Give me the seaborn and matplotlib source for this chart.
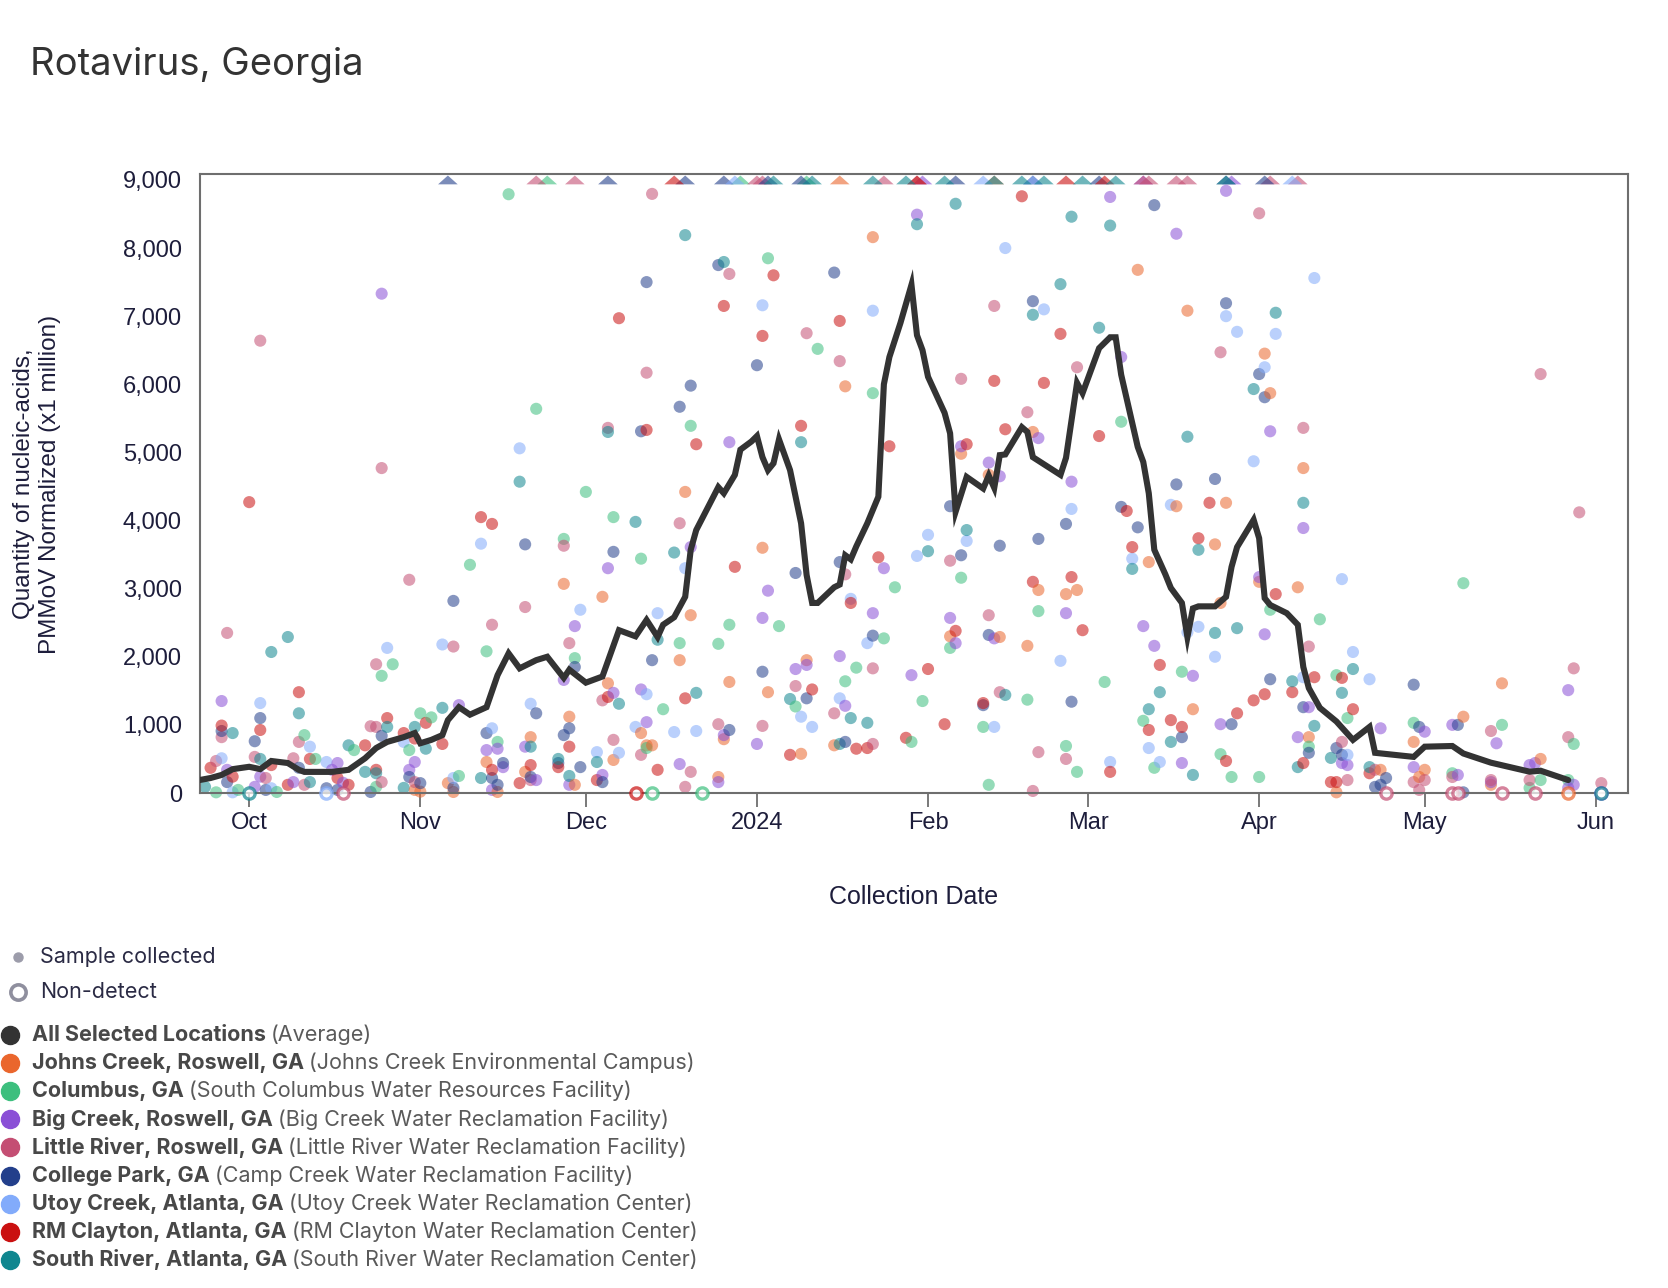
import pandas as pd
import numpy as np
import matplotlib
matplotlib.use('Agg')
import matplotlib.pyplot as plt
import matplotlib.dates as mdates
from matplotlib.ticker import FuncFormatter
from matplotlib.lines import Line2D
import seaborn as sns

sns.set_theme(style='white')
plt.rcParams['font.family'] = ['Liberation Sans', 'DejaVu Sans']

# ---- data (values are x1 million, PMMoV normalized) ----
cap = 9000  # values above this are drawn as triangles on the top edge

avg_dates = ['Sep 22','Sep 24','Sep 26','Sep 28','Oct 1','Oct 3','Oct 5','Oct 8','Oct 10','Oct 11',
             'Oct 16','Oct 19','Oct 22','Oct 24','Oct 26','Oct 29','Oct 31','Nov 1','Nov 3','Nov 5',
             'Nov 6','Nov 8','Nov 10','Nov 13','Nov 15','Nov 17','Nov 19','Nov 22','Nov 24','Nov 27',
             'Nov 28','Dec 1','Dec 4','Dec 7','Dec 10','Dec 12','Dec 14','Dec 15','Dec 17','Dec 19',
             'Dec 20','Dec 21','Dec 25','Dec 26','Dec 28','Dec 29','Dec 31','Jan 1','Jan 2','Jan 3',
             'Jan 4','Jan 5','Jan 7','Jan 9','Jan 10','Jan 11','Jan 12','Jan 15','Jan 16','Jan 17',
             'Jan 18','Jan 19','Jan 21','Jan 23','Jan 24','Jan 25','Jan 27','Jan 29','Jan 30','Jan 31',
             'Feb 1','Feb 4','Feb 5','Feb 6','Feb 8','Feb 11','Feb 12','Feb 13','Feb 14','Feb 15',
             'Feb 18','Feb 19','Feb 20','Feb 25','Feb 26','Feb 28','Feb 29','Mar 3','Mar 5','Mar 6',
             'Mar 7','Mar 10','Mar 11','Mar 12','Mar 13','Mar 15','Mar 16','Mar 18','Mar 19','Mar 20',
             'Mar 21','Mar 24','Mar 26','Mar 27','Mar 28','Mar 31','Apr 1','Apr 2','Apr 3','Apr 6',
             'Apr 8','Apr 9','Apr 10','Apr 12','Apr 15','Apr 18','Apr 21','Apr 22','Apr 29','May 1',
             'May 6','May 8','May 13','May 20','May 22','May 27']
avg_vals = [190,220,265,350,385,350,470,440,340,310,
            310,340,510,660,750,820,880,730,780,850,
            1070,1260,1150,1260,1730,2050,1830,1950,2000,1690,
            1810,1620,1710,2390,2300,2540,2290,2470,2580,2880,
            3570,3860,4490,4400,4670,5040,5160,5240,4930,4740,
            4840,5190,4740,3960,3200,2790,2790,3020,3060,3490,
            3430,3620,3960,4350,6000,6400,6900,7460,6720,6500,
            6110,5580,5280,4130,4640,4470,4660,4480,4960,4970,
            5370,5300,4930,4670,4920,6020,5870,6530,6690,6690,
            6140,5080,4860,4400,3570,3210,3010,2790,2290,2710,
            2740,2740,2880,3320,3610,4010,3740,2860,2760,2640,
            2470,1850,1540,1250,1050,780,970,590,530,680,
            690,580,445,313,327,190]

# Johns Creek, Roswell
jc_dates = ['Oct 31','Nov 1','Nov 6','Nov 7','Nov 13','Nov 15','Nov 20','Nov 21','Nov 27','Nov 28',
            'Nov 29','Dec 4','Dec 5','Dec 6','Dec 11','Dec 12','Dec 13','Dec 18','Dec 19','Dec 20',
            'Dec 25','Dec 26','Dec 27','Jan 2','Jan 3','Jan 9','Jan 10','Jan 15','Jan 17','Jan 22',
            'Feb 5','Feb 7','Feb 12','Feb 14','Feb 19','Feb 20','Feb 21','Feb 26','Feb 28','Mar 10',
            'Mar 12','Mar 17','Mar 19','Mar 20','Mar 24','Mar 25','Mar 26','Apr 1','Apr 2','Apr 3',
            'Apr 8','Apr 9','Apr 10','Apr 15','Apr 23','Apr 29','Apr 30','May 1','May 8','May 13',
            'May 15','May 22']
jc_vals = [45,20,145,15,455,15,310,820,3070,1120,
           120,2880,1610,485,880,700,700,1950,4420,2610,
           235,790,1630,3600,1480,575,1950,700,5970,8160,
           2300,4980,4670,2290,2160,5300,2980,2920,2980,7680,
           3390,4210,7080,1230,3650,2790,4260,3100,6450,5870,
           3020,4770,820,10,340,750,235,340,1120,120,
           1610,500]
jc_nd = ['May 27']
jc_hi = ['Jan 16','Feb 13']

# Columbus
co_dates = ['Sep 25','Sep 29','Oct 6','Oct 11','Oct 13','Oct 20','Oct 24','Oct 25','Oct 27','Oct 30',
            'Nov 1','Nov 3','Nov 8','Nov 10','Nov 13','Nov 15','Nov 17','Nov 22','Nov 27','Nov 29',
            'Dec 1','Dec 6','Dec 11','Dec 12','Dec 15','Dec 18','Dec 20','Dec 25','Dec 27','Jan 3',
            'Jan 5','Jan 8','Jan 12','Jan 17','Jan 19','Jan 22','Jan 24','Jan 26','Jan 29','Jan 31',
            'Feb 5','Feb 7','Feb 11','Feb 12','Feb 19','Feb 21','Feb 26','Feb 28','Mar 4','Mar 7',
            'Mar 11','Mar 13','Mar 18','Mar 25','Mar 27','Apr 1','Apr 3','Apr 10','Apr 12','Apr 15',
            'Apr 17','Apr 29','May 6','May 8','May 15','May 20','May 22','May 27','May 28']
co_vals = [10,45,15,850,500,630,90,1720,1890,630,
           1170,1110,250,3350,2080,750,8790,5640,3730,1980,
           4420,4050,3440,660,1230,2200,5390,2190,2470,7850,
           2450,1270,6520,1640,1840,5870,2270,3020,750,1350,
           2130,3160,970,120,1370,2670,690,310,1630,5450,
           1060,370,1780,570,235,235,2690,680,2550,1730,
           1100,1030,290,3080,1000,75,190,190,720]
co_nd = ['Dec 13','Dec 22']
co_hi = ['Nov 24','Dec 29','Jan 10']

# Big Creek, Roswell
bc_dates = ['Sep 26','Sep 27','Oct 2','Oct 3','Oct 9','Oct 16','Oct 17','Oct 18','Oct 25','Oct 30',
            'Oct 31','Nov 8','Nov 13','Nov 14','Nov 15','Nov 16','Nov 20','Nov 22','Nov 27','Nov 28',
            'Nov 29','Dec 4','Dec 5','Dec 6','Dec 11','Dec 12','Dec 18','Dec 20','Dec 25','Dec 26',
            'Dec 27','Jan 1','Jan 2','Jan 3','Jan 8','Jan 10','Jan 16','Jan 17','Jan 22','Jan 24',
            'Jan 29','Jan 30','Feb 5','Feb 6','Feb 7','Feb 12','Feb 13','Feb 14','Feb 21','Feb 26',
            'Feb 27','Mar 5','Mar 7','Mar 11','Mar 13','Mar 17','Mar 18','Mar 20','Mar 25','Mar 26',
            'Apr 1','Apr 2','Apr 3','Apr 8','Apr 9','Apr 10','Apr 16','Apr 17','Apr 23','Apr 29',
            'May 1','May 6','May 7','May 13','May 14','May 20','May 21','May 27','May 28','May 27']
bc_vals = [1350,340,90,240,160,340,440,150,7330,340,
           455,1290,630,45,650,380,680,190,1660,120,
           2450,265,3300,1470,1520,1040,425,3610,160,850,
           5150,720,2570,2970,1820,1880,2010,1280,2640,3300,
           1730,8490,2570,2200,5090,4850,2270,4650,5210,2640,
           4570,8750,6400,2450,2160,8210,440,1720,1010,8840,
           3170,2330,5310,820,3890,1260,440,410,950,380,
           900,1000,265,160,730,410,440,1510,120,75]
bc_nd = ['Jun 2']
bc_hi = ['Jan 31','Mar 11','Mar 27']

# Little River, Roswell
lr_dates = ['Sep 25','Sep 26','Sep 27','Oct 2','Oct 3','Oct 4','Oct 9','Oct 10','Oct 11','Oct 23',
            'Oct 24','Oct 24','Oct 25','Oct 25','Oct 30','Oct 31','Nov 7','Nov 14','Nov 20','Nov 21',
            'Nov 27','Nov 28','Dec 4','Dec 5','Dec 6','Dec 11','Dec 12','Dec 13','Dec 18','Dec 19',
            'Dec 20','Dec 25','Dec 27','Jan 2','Jan 8','Jan 10','Jan 15','Jan 16','Jan 17','Jan 22',
            'Jan 22','Feb 5','Feb 7','Feb 12','Feb 13','Feb 14','Feb 19','Feb 20','Feb 21','Feb 26',
            'Feb 28','Mar 25','Apr 1','Apr 9','Apr 10','Apr 16','Apr 17','Apr 22','Apr 29','Apr 30',
            'May 1','May 6','May 13','May 13','May 20','May 22','May 27','May 28','May 29','Jun 2']
lr_vals = [470,820,2350,530,6640,220,510,750,120,980,
           1890,970,4770,160,3130,160,2150,2470,2730,190,
           3630,2200,1360,5360,780,560,6170,8795,3960,90,
           310,1010,7620,985,1570,6750,1170,6340,3210,1830,
           720,3410,6080,2610,7150,1480,5590,30,600,500,
           6250,6470,8510,5360,2150,750,190,340,160,45,
           190,235,910,190,190,6150,820,1830,4120,145]
lr_nd = ['Oct 18','Apr 24','May 6','May 7','May 15','May 21']
lr_hi = ['Nov 22','Nov 29','Jan 1','Jan 2','Jan 24','Jan 30','Mar 11','Mar 12','Mar 17','Mar 19',
         'Apr 3','Apr 8']

# College Park
cp_dates = ['Sep 26','Sep 27','Oct 2','Oct 3','Oct 4','Oct 10','Oct 15','Oct 17','Oct 23','Oct 25',
            'Oct 30','Nov 1','Nov 7','Nov 7','Nov 13','Nov 14','Nov 15','Nov 16','Nov 20','Nov 21',
            'Nov 22','Nov 26','Nov 27','Nov 28','Nov 29','Nov 30','Dec 4','Dec 6','Dec 11','Dec 12',
            'Dec 13','Dec 18','Dec 20','Dec 25','Dec 27','Jan 1','Jan 2','Jan 8','Jan 10','Jan 15',
            'Jan 16','Jan 17','Jan 22','Feb 5','Feb 7','Feb 11','Feb 12','Feb 14','Feb 20','Feb 21',
            'Feb 26','Feb 27','Mar 7','Mar 10','Mar 13','Mar 17','Mar 18','Mar 24','Mar 26','Mar 27',
            'Apr 1','Apr 2','Apr 3','Apr 9','Apr 10','Apr 15','Apr 16','Apr 22','Apr 23','Apr 24',
            'Apr 29','Apr 30','May 7','May 8']
cp_vals = [910,160,760,1100,45,370,70,45,15,840,
           235,145,2820,75,880,220,120,440,3650,235,
           1170,440,850,950,1850,380,160,3540,5310,7500,
           1950,5670,5980,7750,925,6280,1780,3230,1390,7640,
           3390,750,2310,4210,3490,1290,2320,3630,7220,3730,
           3950,1340,4200,3900,8630,4530,820,4610,7190,1010,
           6150,5810,1670,1260,590,660,560,90,120,220,
           1590,970,1000,10]
cp_nd = []
cp_hi = ['Nov 6','Dec 5','Dec 19','Dec 26','Jan 3','Jan 9','Feb 6','Feb 20','Mar 3','Mar 26','Apr 2']

# Utoy Creek, Atlanta
uc_dates = ['Sep 26','Sep 28','Oct 3','Oct 5','Oct 12','Oct 15','Oct 26','Oct 29','Nov 5','Nov 7',
            'Nov 12','Nov 14','Nov 19','Nov 21','Nov 30','Dec 3','Dec 7','Dec 10','Dec 12','Dec 14',
            'Dec 17','Dec 19','Dec 21','Jan 2','Jan 9','Jan 11','Jan 16','Jan 18','Jan 21','Jan 22',
            'Jan 30','Feb 1','Feb 8','Feb 13','Feb 15','Feb 22','Feb 25','Feb 27','Mar 5','Mar 9',
            'Mar 12','Mar 14','Mar 16','Mar 19','Mar 21','Mar 24','Mar 26','Mar 28','Mar 31','Apr 2',
            'Apr 4','Apr 9','Apr 11','Apr 16','Apr 17','Apr 18','Apr 21']
uc_vals = [510,10,1320,70,680,455,2130,750,2180,220,
           3660,950,5060,1310,2690,600,590,970,1450,2640,
           895,3300,910,7160,1120,970,1390,2850,2200,7080,
           3480,3790,3700,970,8000,7100,1940,4170,455,3440,
           660,455,4230,2360,2440,2000,7000,6770,4870,6250,
           6740,1700,7560,3140,560,2070,1670]
uc_nd = ['Oct 15']
uc_hi = ['Dec 28','Feb 11','Feb 20','Apr 7']

# RM Clayton, Atlanta
rm_dates = ['Sep 24','Sep 26','Sep 28','Oct 1','Oct 3','Oct 5','Oct 8','Oct 10','Oct 12','Oct 17',
            'Oct 19','Oct 22','Oct 24','Oct 26','Oct 29','Oct 31','Nov 2','Nov 5','Nov 12','Nov 14',
            'Nov 14','Nov 19','Nov 21','Nov 26','Nov 28','Dec 3','Dec 5','Dec 7','Dec 12','Dec 14',
            'Dec 19','Dec 21','Dec 26','Dec 28','Jan 2','Jan 4','Jan 7','Jan 9','Jan 11','Jan 16',
            'Jan 18','Jan 19','Jan 21','Jan 23','Jan 25','Jan 28','Feb 1','Feb 4','Feb 6','Feb 8',
            'Feb 11','Feb 13','Feb 15','Feb 18','Feb 20','Feb 22','Feb 25','Feb 27','Feb 29','Mar 3',
            'Mar 5','Mar 8','Mar 9','Mar 12','Mar 14','Mar 16','Mar 18','Mar 21','Mar 23','Mar 26',
            'Mar 28','Mar 31','Apr 2','Apr 4','Apr 7','Apr 9','Apr 11','Apr 14','Apr 15','Apr 16',
            'Apr 18','Apr 21']
rm_vals = [370,990,240,4270,925,410,120,1480,500,220,
           120,700,340,1100,880,800,1030,720,4050,3950,
           340,145,410,380,680,190,1410,6970,5330,340,
           1390,5120,7150,3320,6710,7600,560,5390,1520,6930,
           2790,650,660,3460,5090,810,1820,1010,2380,5120,
           1320,6050,5340,8760,3100,6020,6740,3170,2390,5240,
           310,4140,3610,925,1880,1070,970,3740,4260,470,
           1170,1360,1450,2920,1480,440,1700,160,160,1690,
           1230,290]
rm_nd = ['Dec 10']
rm_hi = ['Dec 17','Jan 30','Feb 26','Mar 4']

# South River, Atlanta
sr_dates = ['Sep 23','Sep 28','Oct 3','Oct 5','Oct 8','Oct 10','Oct 12','Oct 19','Oct 22','Oct 24',
            'Oct 26','Oct 29','Oct 31','Nov 2','Nov 5','Nov 12','Nov 19','Nov 21','Nov 26','Nov 28',
            'Dec 3','Dec 5','Dec 7','Dec 10','Dec 14','Dec 17','Dec 19','Dec 21','Dec 26','Jan 7',
            'Jan 9','Jan 16','Jan 18','Jan 21','Jan 30','Feb 1','Feb 6','Feb 8','Feb 15','Feb 20',
            'Feb 25','Feb 27','Mar 3','Mar 5','Mar 9','Mar 12','Mar 14','Mar 16','Mar 19','Mar 20',
            'Mar 21','Mar 24','Mar 28','Mar 31','Apr 4','Apr 7','Apr 8','Apr 9','Apr 11','Apr 14',
            'Apr 16','Apr 18','Apr 21']
sr_vals = [90,880,500,2070,2290,1170,160,700,310,290,
           970,75,970,650,1250,220,4570,680,500,250,
           455,5300,1310,3980,2250,3530,8190,1470,7795,1380,
           5150,720,1100,1030,8350,3550,8650,3860,1440,7020,
           7470,8460,6830,8330,3290,1230,1480,750,5230,265,
           3570,2350,2420,5930,7050,1640,380,4260,985,515,
           1470,1820,380]
sr_nd = ['Oct 1','Jun 2']
sr_hi = ['Jan 4','Jan 11','Jan 22','Jan 28','Feb 4','Feb 13','Feb 18','Feb 22','Feb 29','Mar 6','Mar 26']

site_names = ['Johns Creek, Roswell, GA', 'Columbus, GA', 'Big Creek, Roswell, GA',
              'Little River, Roswell, GA', 'College Park, GA', 'Utoy Creek, Atlanta, GA',
              'RM Clayton, Atlanta, GA', 'South River, Atlanta, GA']
facilities = ['Johns Creek Environmental Campus', 'South Columbus Water Resources Facility',
              'Big Creek Water Reclamation Facility', 'Little River Water Reclamation Facility',
              'Camp Creek Water Reclamation Facility', 'Utoy Creek Water Reclamation Center',
              'RM Clayton Water Reclamation Center', 'South River Water Reclamation Center']
site_colors = ['#EA662D', '#3DBF7E', '#8A4FD6', '#C44E73', '#233F8B', '#82ABFB', '#CA1010', '#0F868F']


def to_dt(days):
    # Sep-Dec are 2023, the rest 2024
    return pd.to_datetime([s + (' 2023' if s[:3] in ('Sep', 'Oct', 'Nov', 'Dec') else ' 2024')
                           for s in days], format='%b %d %Y')


all_dates = [jc_dates, co_dates, bc_dates, lr_dates, cp_dates, uc_dates, rm_dates, sr_dates]
all_vals = [jc_vals, co_vals, bc_vals, lr_vals, cp_vals, uc_vals, rm_vals, sr_vals]
all_nd = [jc_nd, co_nd, bc_nd, lr_nd, cp_nd, uc_nd, rm_nd, sr_nd]
all_hi = [jc_hi, co_hi, bc_hi, lr_hi, cp_hi, uc_hi, rm_hi, sr_hi]

frames = []
for name, ds, vs in zip(site_names, all_dates, all_vals):
    frames.append(pd.DataFrame({'date': to_dt(ds), 'value': vs, 'site': name}))
df = pd.concat(frames, ignore_index=True)
df = df.sort_values('date', kind='stable')

avg = pd.DataFrame({'date': to_dt(avg_dates), 'value': avg_vals})

# ---- figure ----
W, H = 1668, 1288
fig = plt.figure(figsize=(W / 100, H / 100), dpi=100)
ax = fig.add_axes([200 / W, 1 - 793 / H, 1428 / W, 619 / H])

palette = dict(zip(site_names, site_colors))
sns.scatterplot(data=df, x='date', y='value', hue='site', palette=palette, s=76,
                alpha=0.55, edgecolor='none', legend=False, ax=ax, zorder=2)

# non-detects: open rings on the zero line
for c, nd in zip(site_colors, all_nd):
    if nd:
        ax.scatter(to_dt(nd), [0] * len(nd), s=66, facecolors='white', edgecolors=c,
                   linewidths=2.4, alpha=0.7, zorder=3)

# above the axis limit: flat triangles on the top edge
tri = [(-1, -0.45), (1, -0.45), (0, 0.45)]
for c, hi in zip(site_colors, all_hi):
    ax.scatter(to_dt(hi), [cap] * len(hi), marker=tri, s=200, color=c, alpha=0.6,
               edgecolors='none', zorder=3)

sns.lineplot(data=avg, x='date', y='value', color='#333333', lw=4.4, ax=ax, zorder=5,
             solid_joinstyle='miter')

for coll in ax.collections:
    coll.set_clip_on(False)

ax.set_xlim(pd.Timestamp('2023-09-22 02:00'), pd.Timestamp('2024-06-06 20:00'))
ax.set_ylim(0, 9087)
ax.set_xlabel('')
ax.set_ylabel('')

ax.set_yticks(range(0, 9001, 1000))
ax.yaxis.set_major_formatter(FuncFormatter(lambda v, p: f'{int(v):,}'))
ax.xaxis.set_major_locator(mdates.MonthLocator())


def month_fmt(v, pos):
    d = mdates.num2date(v)
    return str(d.year) if d.month == 1 else d.strftime('%b')


ax.xaxis.set_major_formatter(FuncFormatter(month_fmt))

tick_col = '#1d1d3b'
ax.tick_params(axis='y', length=0, pad=13, labelsize=17, labelcolor=tick_col)
ax.tick_params(axis='x', length=10, width=1.3, color='#6e6e6e', pad=4, labelsize=17,
               labelcolor=tick_col, bottom=True)
for sp in ax.spines.values():
    sp.set_visible(True)
    sp.set_color('#6e6e6e')
    sp.set_linewidth(1.5)
ax.grid(False)


def fx(x):
    return x / W


def fy(y):
    return 1 - y / H


fig.text(fx(914), fy(897), 'Collection Date', ha='center', va='center', fontsize=18,
         color=tick_col)
fig.text(fx(37), fy(484), 'Quantity of nucleic-acids,\nPMMoV Normalized (x1 million)',
         rotation=90, ha='center', va='center', fontsize=17.5, color=tick_col,
         multialignment='center', linespacing=1.25)

fig.text(fx(30), fy(75), 'Rotavirus, Georgia', fontsize=27.5, color='#333333',
         family=['Inter', 'DejaVu Sans'], va='baseline')

# ---- legend under the chart ----
lg_font = ['Inter', 'DejaVu Sans']
fig.add_artist(Line2D([fx(18)], [fy(957)], marker='o', ms=6.5, color='#9c9caa', lw=0,
                      transform=fig.transFigure))
fig.text(fx(40), fy(957), 'Sample collected', fontsize=15.5, color='#2a2a44', family=lg_font,
         va='center')
fig.add_artist(Line2D([fx(18)], [fy(992)], marker='o', ms=11, mfc='white', mec='#8f8f9e',
                      mew=2.6, lw=0, transform=fig.transFigure))
fig.text(fx(40), fy(992), 'Non-detect', fontsize=15.5, color='#2a2a44', family=lg_font,
         va='center')

renderer = fig.canvas.get_renderer()
legend_names = ['All Selected Locations'] + site_names
legend_notes = ['Average'] + facilities
legend_cols = ['#333333'] + site_colors
for i, (nm, note, c) in enumerate(zip(legend_names, legend_notes, legend_cols)):
    y = 1035 + i * 28.1
    fig.add_artist(Line2D([fx(10)], [fy(y)], marker='o', ms=13, color=c, lw=0,
                          transform=fig.transFigure))
    t = fig.text(fx(32), fy(y), nm, fontsize=15.5, weight='bold', color='#484848',
                 family=lg_font, va='center')
    bb = t.get_window_extent(renderer=renderer)
    fig.text(bb.x1 / W + 5 / W, fy(y), '(' + note + ')', fontsize=15.5, color='#5a5a5a',
             family=lg_font, va='center')

fig.savefig('out.png', dpi=100)
